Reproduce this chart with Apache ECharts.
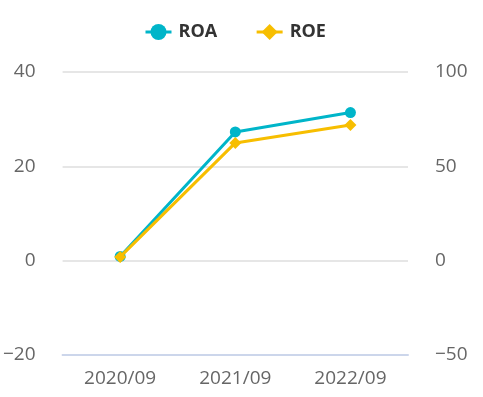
<!DOCTYPE html>
<html>
<head>
<meta charset="utf-8">
<script src="https://cdn.jsdelivr.net/npm/echarts@6/dist/echarts.min.js"></script>
<style>
  html, body { margin: 0; padding: 0; background: #fff; }
  #main { width: 483px; height: 397px; }
</style>
</head>
<body>
<div id="main"></div>
<script>
var periods = ['2020/09', '2021/09', '2022/09'];
var roaData = [0.9, 27.3, 31.4];
var roeData = [2.0, 62.4, 71.9];

var chart = echarts.init(document.getElementById('main'));

// axis labels use a real minus sign like the original
function fmt(v) {
    return String(v).replace('-', '\u2212');
}

var labelStyle = {
    color: '#666',
    fontSize: 19,
    fontFamily: 'Open Sans',
    formatter: fmt
};

var option = {
    animation: false,
    legend: {
        top: 18,
        left: 139,
        itemGap: 38,
        itemWidth: 26,
        itemHeight: 20,
        lineStyle: { width: 3 },
        textStyle: {
            color: '#333',
            fontSize: 18,
            fontWeight: 'bold',
            fontFamily: 'Open Sans',
            padding: [0, 0, 0, 2]
        },
        data: ['ROA', 'ROE']
    },
    grid: {
        left: 60,
        right: 75,
        top: 72,
        bottom: 42
    },
    xAxis: {
        type: 'category',
        data: periods,
        axisLine: { onZero: false, lineStyle: { color: '#ccd6eb', width: 2 } },
        axisTick: { show: false },
        axisLabel: Object.assign({}, labelStyle, { margin: 14, formatter: null })
    },
    yAxis: [
        {
            type: 'value',
            min: -20,
            max: 40,
            interval: 20,
            axisLine: { show: false },
            axisTick: { show: false },
            splitLine: { lineStyle: { color: '#e6e6e6', width: 2 } },
            axisLabel: Object.assign({ margin: 27 }, labelStyle)
        },
        {
            type: 'value',
            min: -50,
            max: 100,
            interval: 50,
            axisLine: { show: false },
            axisTick: { show: false },
            splitLine: { show: false },
            axisLabel: Object.assign({ margin: 27 }, labelStyle)
        }
    ],
    series: [
        {
            name: 'ROA',
            type: 'line',
            yAxisIndex: 0,
            data: roaData,
            symbol: 'circle',
            symbolSize: 11,
            color: '#00b5c9',
            lineStyle: { width: 3 },
            z: 2
        },
        {
            name: 'ROE',
            type: 'line',
            yAxisIndex: 1,
            data: roeData,
            symbol: 'diamond',
            symbolSize: 12,
            color: '#f7be00',
            lineStyle: { width: 3 },
            z: 3
        }
    ]
};

chart.setOption(option);
</script>
</body>
</html>
